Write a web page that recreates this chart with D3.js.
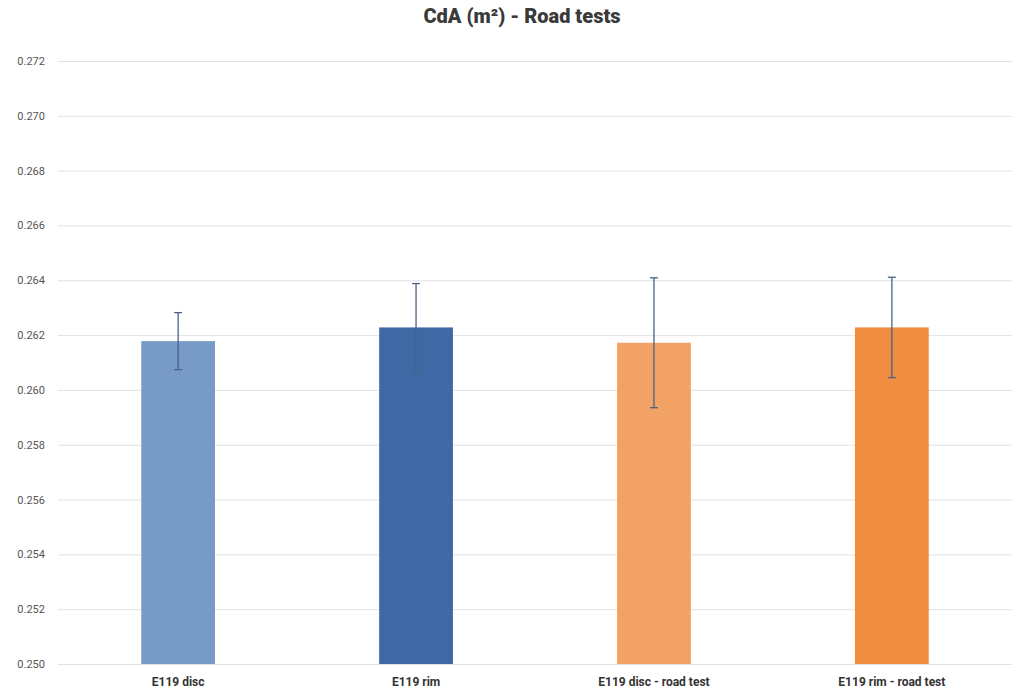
<!DOCTYPE html>
<html><head><meta charset="utf-8">
<script src="https://cdn.jsdelivr.net/npm/d3@7"></script>
<style>body{margin:0;background:#fff}</style>
</head><body><svg id="c" width="1019" height="692"></svg>
<script>
const categories = ["E119 disc", "E119 rim", "E119 disc - road test", "E119 rim - road test"];
const values = [0.26178, 0.26228, 0.26172, 0.26228];
const errors = [0.00104, 0.00160, 0.00237, 0.00183];
const colors = ["#779ac6", "#3e69a5", "#f2a264", "#f08d41"];
const yTicks = [0.250,0.252,0.254,0.256,0.258,0.260,0.262,0.264,0.266,0.268,0.270,0.272];

const svg = d3.select("#c");
const m = {l:58, r:7, t:61, b:28};
const W = 1019, H = 692;
const x = d3.scaleBand().domain(categories).range([m.l, W-m.r]).paddingInner(0.69).paddingOuter(0.35);
const y = d3.scaleLinear().domain([0.250, 0.272]).range([H-m.b, m.t]);

svg.append("text").attr("x", 522).attr("y", 23).attr("text-anchor","middle")
  .attr("font-family","Roboto, sans-serif").attr("font-weight",900).attr("font-size",20)
  .attr("fill","#3a3a3a").text("CdA (m²) - Road tests");

const gy = svg.append("g").attr("transform",`translate(${m.l},0)`)
  .call(d3.axisLeft(y).tickValues(yTicks).tickFormat(d3.format(".3f")).tickSize(-(W-m.l-m.r)).tickPadding(13));
gy.select(".domain").remove();
gy.selectAll(".tick line").attr("stroke","#e2e2e2").attr("stroke-width",1);
gy.selectAll(".tick text").attr("font-family","Roboto, sans-serif").attr("font-size",11).attr("fill","#555");

svg.selectAll("rect.bar").data(categories).join("rect").attr("class","bar")
  .attr("x", d=>x(d)).attr("width", x.bandwidth())
  .attr("y", (d,i)=>y(values[i])).attr("height",(d,i)=>y(0.250)-y(values[i]))
  .attr("fill",(d,i)=>colors[i]);

const eb = svg.append("g").attr("stroke","#4b6185").attr("stroke-width",1.3);
categories.forEach((c,i)=>{
  const cx = x(c)+x.bandwidth()/2;
  eb.append("line").attr("x1",cx).attr("x2",cx).attr("y1",y(values[i]+errors[i])).attr("y2",y(values[i]-errors[i]));
  [values[i]+errors[i], values[i]-errors[i]].forEach(v=>{
    eb.append("line").attr("x1",cx-4).attr("x2",cx+4).attr("y1",y(v)).attr("y2",y(v));
  });
});

const gx = svg.append("g").attr("transform",`translate(0,${H-m.b})`)
  .call(d3.axisBottom(x).tickSize(0).tickPadding(13));
gx.select(".domain").remove();
gx.selectAll(".tick text").attr("font-family","Roboto, sans-serif").attr("font-weight","bold").attr("font-size",12).attr("fill","#333");
</script></body></html>
